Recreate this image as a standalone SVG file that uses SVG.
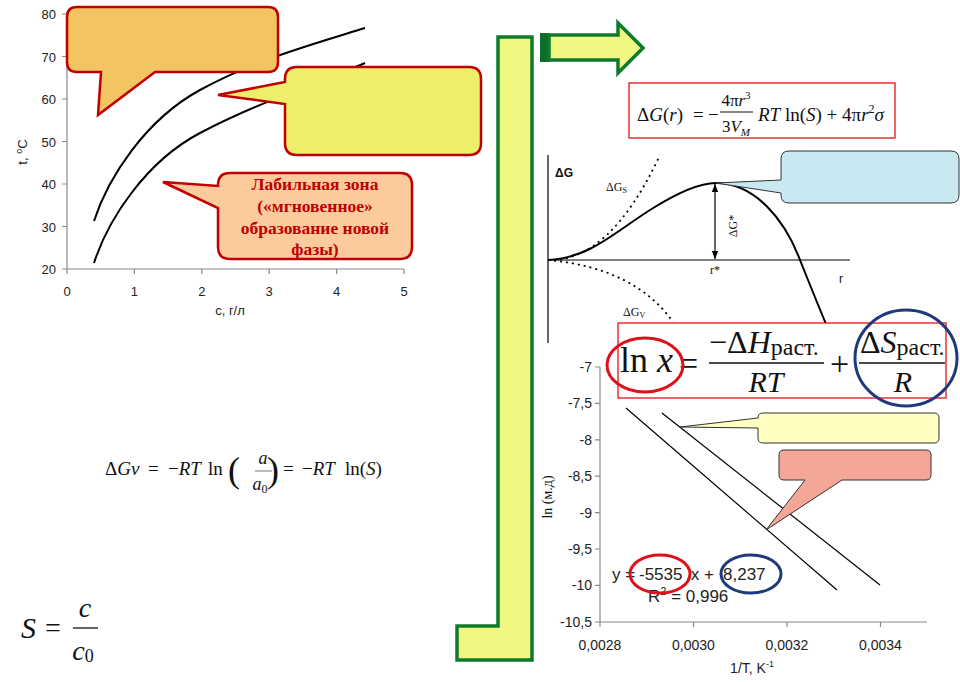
<svg xmlns="http://www.w3.org/2000/svg" width="960" height="682" viewBox="0 0 960 682">
<style>
.ax{stroke:#8a8a8a;stroke-width:1.2;fill:none}
.tk{font-family:"Liberation Sans",Arial,sans-serif;font-size:13px;fill:#222}
.tk2{font-family:"Liberation Sans",Arial,sans-serif;font-size:14px;fill:#222}
.eq{font-family:"Liberation Sans",Arial,sans-serif;font-size:17px;fill:#222}
.crv{stroke:#000;stroke-width:2;fill:none}
.thin{stroke:#000;stroke-width:1.2;fill:none}
.dot{stroke:#000;stroke-width:1.8;fill:none;stroke-dasharray:2 4}
.co{stroke:#C00000;stroke-width:2.5}
.cb{stroke:#333;stroke-width:1}
.ser{font-family:"Liberation Serif","Times New Roman",serif;fill:#111}
.math{font-family:"Liberation Serif","Times New Roman",serif;fill:#111}
.it{font-style:italic}
.lab{font-family:"Liberation Serif","Times New Roman",serif;font-weight:bold;font-size:17.5px;fill:#C00000;text-anchor:middle}
.grn{fill:#F0F882;stroke:#0F7A2E;stroke-width:3.5}
</style>
<defs>
<marker id="ah" viewBox="0 0 10 10" refX="10" refY="5" markerWidth="7" markerHeight="7" orient="auto-start-reverse"><path d="M0,1 L10,5 L0,9 Z" fill="#000"/></marker>
</defs>
<rect width="960" height="682" fill="#fff"/>

<!-- Top-left chart -->
<g id="chart-solubility">
<path class="ax" d="M67,14 V269 H404"/>
<path class="ax" d="M62,14 H67 M62,56.5 H67 M62,99 H67 M62,141.5 H67 M62,184 H67 M62,226.5 H67 M62,269 H67 M67,269 V274 M134.4,269 V274 M201.8,269 V274 M269.2,269 V274 M336.6,269 V274 M404,269 V274"/>
<g class="tk" text-anchor="end">
<text x="56" y="19">80</text><text x="56" y="61.5">70</text><text x="56" y="104">60</text><text x="56" y="146.5">50</text><text x="56" y="189">40</text><text x="56" y="231.5">30</text><text x="56" y="274">20</text>
</g>
<g class="tk" text-anchor="middle">
<text x="67" y="296">0</text><text x="134.4" y="296">1</text><text x="201.8" y="296">2</text><text x="269.2" y="296">3</text><text x="336.6" y="296">4</text><text x="404" y="296">5</text>
<text x="230" y="315">c, г/л</text>
<text transform="translate(27,152) rotate(-90)">t, <tspan font-size="9" dy="-5">o</tspan><tspan dy="5">C</tspan></text>
</g>
<path class="crv" d="M94,221 C108,178 145,120 200,90 S310,45 365,28"/>
<path class="crv" d="M94,263 C108,220 145,162 200,133 S310,86 365,63"/>
</g>

<g id="callout-orange">
<path class="co" fill="#F2C462" d="M77,7 H268 Q278,7 278,17 V62 Q278,72 268,72 H155 L98,115 L101,72 H77 Q67,72 67,62 V17 Q67,7 77,7 Z"/>
</g>
<g id="callout-yellow">
<path class="co" fill="#EEEE6A" d="M297,67 H469 Q481,67 481,79 V143 Q481,155 469,155 H297 Q285,155 285,143 V104 L218,95 L285,82 V79 Q285,67 297,67 Z"/>
</g>
<g id="callout-labile">
<path class="co" fill="#FCCB9D" d="M230,173 H400 Q412,173 412,185 V247 Q412,259 400,259 H230 Q218,259 218,247 V208 L163,182 L218,186 V185 Q218,173 230,173 Z"/>
<text class="lab" x="315" y="190">Лабильная зона</text>
<text class="lab" x="315" y="212">(«мгновенное»</text>
<text class="lab" x="315" y="234">образование новой</text>
<text class="lab" x="315" y="255">фазы)</text>
</g>

<!-- Green shapes -->
<g id="green-bracket">
<path class="grn" d="M498,37 H532 V660 H457 V626 H498 Z"/>
</g>
<g id="green-arrow">
<rect x="540" y="33" width="10" height="29" fill="#0B6E2B"/>
<path class="grn" stroke-width="3" d="M549,35 H618 V23 L643,48 L618,73 V60 H549 Z"/>
</g>

<!-- Formula top -->
<g id="formula-dG">
<rect x="629" y="83" width="266" height="55" fill="#fff" stroke="#E00000" stroke-width="1.2"/>
<text class="math" font-size="19" x="637" y="121">Δ<tspan class="it">G</tspan>(<tspan class="it">r</tspan>)</text>
<text class="math" font-size="19" x="693" y="121">=</text>
<text class="math" font-size="19" x="708" y="121">−</text>
<text class="math" font-size="17" x="736" y="106" text-anchor="middle">4π<tspan class="it">r</tspan><tspan font-size="11" dy="-7">3</tspan></text>
<line x1="720" y1="112" x2="753" y2="112" stroke="#111" stroke-width="1"/>
<text class="math" font-size="17" x="736" y="132" text-anchor="middle">3<tspan class="it">V</tspan><tspan class="it" font-size="11" dy="4">M</tspan></text>
<text class="math" font-size="19" x="758" y="121"><tspan class="it">RT</tspan> ln(<tspan class="it">S</tspan>) + 4π<tspan class="it">r</tspan><tspan font-size="12" dy="-8">2</tspan><tspan class="it" dy="8">σ</tspan></text>
</g>

<!-- Nucleation graph -->
<g id="chart-nucleation">
<path class="thin" d="M548,155 V343 M548,260 H850"/>
<path class="dot" d="M548,260 Q610,262 660,155"/>
<path class="dot" d="M548,260 Q635,268 673,322"/>
<path class="crv" stroke-width="1.5" d="M548,260 C590,258 615,232 650,210 C680,191 700,183 716,183 C755,183 785,220 800,260 C810,285 818,305 826,324"/>
<line x1="715" y1="184" x2="715" y2="259" stroke="#000" stroke-width="1.2" marker-start="url(#ah)" marker-end="url(#ah)"/>
<text font-family="'Liberation Sans',Arial,sans-serif" font-weight="bold" font-size="12" x="555" y="177" fill="#111">ΔG</text>
<text class="ser" font-size="12" x="606" y="191">ΔG<tspan font-size="8" dy="2">S</tspan></text>
<text class="ser" font-size="12" x="623" y="316">ΔG<tspan font-size="8" dy="2">V</tspan></text>
<text class="ser" font-size="12" x="710" y="274">r*</text>
<text font-family="'Liberation Sans',Arial,sans-serif" font-size="12" x="839" y="283" fill="#111">r</text>
<text class="ser" font-size="12" transform="translate(737,226) rotate(-90)" text-anchor="middle">ΔG*</text>
</g>
<g id="callout-blue">
<path class="cb" fill="#C8E8F2" d="M789,151 H951 Q959,151 959,159 V195 Q959,203 951,203 H789 Q781,203 781,195 V193 L716,183 L781,180 V159 Q781,151 789,151 Z"/>
</g>

<!-- Bottom chart -->
<g id="chart-lnx">
<path class="ax" d="M600,367 V622 H927"/>
<path class="ax" d="M595,367 H600 M595,403.4 H600 M595,439.8 H600 M595,476.2 H600 M595,512.6 H600 M595,549 H600 M595,585.4 H600 M595,622 H600 M600,622 V627 M693.5,622 V627 M787,622 V627 M880.5,622 V627"/>
<g class="tk2" text-anchor="end">
<text x="592" y="372">-7</text><text x="592" y="408.4">-7,5</text><text x="592" y="444.8">-8</text><text x="592" y="481.2">-8,5</text><text x="592" y="517.6">-9</text><text x="592" y="554">-9,5</text><text x="592" y="590.4">-10</text><text x="592" y="627">-10,5</text>
</g>
<g class="tk2" text-anchor="middle">
<text x="600" y="650">0,0028</text><text x="693.5" y="650">0,0030</text><text x="787" y="650">0,0032</text><text x="880.5" y="650">0,0034</text>
<text x="752" y="673">1/T, K<tspan font-size="9" dy="-6">-1</tspan></text>
</g>
<text class="ser" font-size="14" text-anchor="middle" transform="translate(552,497) rotate(-90)">ln (м.д)</text>
<path class="thin" d="M626,408 L837,590 M662,413 L880,585"/>
<g class="eq">
<text x="612" y="580">y =</text>
<text x="639" y="580">-5535</text>
<text x="686" y="580">,x +</text>
<text x="723" y="580">8,237</text>
<text x="648" y="602">R<tspan font-size="11" dy="-7">2</tspan><tspan dy="7"> = 0,996</tspan></text>
</g>
<ellipse cx="660" cy="574" rx="30" ry="19" fill="none" stroke="#E0101A" stroke-width="3"/>
<ellipse cx="751" cy="574" rx="30" ry="19" fill="none" stroke="#1F3A7A" stroke-width="3"/>
</g>
<g id="callout-lightyellow">
<path class="cb" fill="#FFFFC2" d="M763,413 H934 Q939,413 939,418 V438 Q939,443 934,443 H763 Q758,443 758,438 V428 L680,427 L758,418 Q758,413 763,413 Z"/>
</g>
<g id="callout-salmon">
<path class="cb" fill="#F5A797" d="M784,450 H926 Q931,450 931,455 V475 Q931,480 926,480 H842 L766,530 L805,480 H784 Q779,480 779,475 V455 Q779,450 784,450 Z"/>
</g>

<!-- ln x formula -->
<g id="formula-lnx">
<rect x="618" y="323" width="328" height="75" fill="#fff" stroke="#E00000" stroke-width="1.2"/>
<text class="math" font-size="36" x="620" y="372">ln <tspan class="it">x</tspan></text>
<text class="math" font-size="34" x="679" y="375">=</text>
<text class="math" font-size="32" x="709" y="353">−Δ<tspan class="it">H</tspan><tspan font-size="24" dy="2">раст.</tspan></text>
<line x1="709" y1="363" x2="824" y2="363" stroke="#111" stroke-width="1.5"/>
<text class="math it" font-size="30" x="766" y="392" text-anchor="middle">RT</text>
<text class="math" font-size="34" x="830" y="375">+</text>
<text class="math" font-size="32" x="860" y="353">Δ<tspan class="it">S</tspan><tspan font-size="24" dy="2">раст.</tspan></text>
<line x1="859" y1="363" x2="945" y2="363" stroke="#111" stroke-width="1.5"/>
<text class="math it" font-size="30" x="903" y="392" text-anchor="middle">R</text>
<ellipse cx="645" cy="365" rx="38" ry="27" fill="none" stroke="#E0101A" stroke-width="3"/>
<ellipse cx="906" cy="358" rx="51" ry="48" fill="none" stroke="#1F3A7A" stroke-width="3"/>
</g>

<!-- Left formulas -->
<g id="formula-dGv">
<text class="math" font-size="19" x="105" y="475">Δ<tspan class="it">Gv</tspan></text>
<text class="math" font-size="19" x="148" y="475">=</text>
<text class="math" font-size="19" x="168" y="475">−<tspan class="it">RT</tspan></text>
<text class="math" font-size="19" x="208" y="475">ln</text>
<text class="math" font-size="36" x="228" y="482">(</text>
<text class="math it" font-size="18" x="263" y="464" text-anchor="middle">a</text>
<line x1="255" y1="471" x2="272" y2="471" stroke="#777" stroke-width="1"/>
<text class="math it" font-size="18" x="260" y="490" text-anchor="middle">a<tspan font-size="12" dy="3" font-style="normal">0</tspan></text>
<text class="math" font-size="36" x="267" y="482">)</text>
<text class="math" font-size="19" x="283" y="475">=</text>
<text class="math" font-size="19" x="302" y="475">−<tspan class="it">RT</tspan></text>
<text class="math" font-size="19" x="345" y="475">ln(<tspan class="it">S</tspan>)</text>
</g>
<g id="formula-S">
<text class="math it" font-size="30" x="21" y="638">S</text>
<text class="math" font-size="28" x="45" y="637">=</text>
<text class="math it" font-size="28" x="85" y="617" text-anchor="middle">c</text>
<line x1="73" y1="628" x2="98" y2="628" stroke="#111" stroke-width="1.3"/>
<text class="math it" font-size="28" x="83" y="660" text-anchor="middle">c<tspan font-size="18" dy="2" font-style="normal">0</tspan></text>
</g>
</svg>
